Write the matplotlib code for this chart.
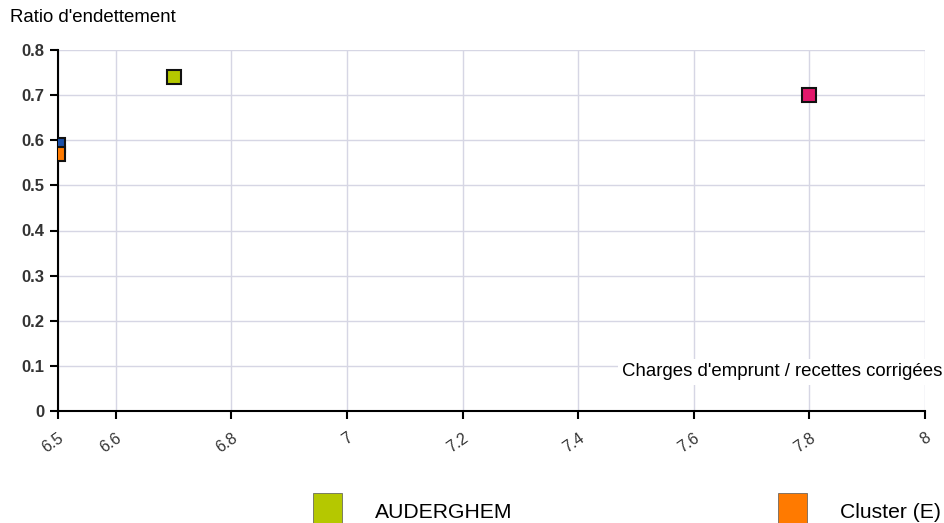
import matplotlib
matplotlib.use("Agg")
import matplotlib.pyplot as plt
from matplotlib.patches import Rectangle

plt.rcParams["font.family"] = ["Liberation Sans", "DejaVu Sans"]

names = ["Blue", "Cluster (E)", "AUDERGHEM", "Red"]
x_vals = [6.5, 6.5, 6.7, 7.8]
y_vals = [0.59, 0.57, 0.74, 0.70]
colors = ["#1a4fa8", "#ff7a00", "#b5c800", "#e2186b"]
x_ticks = [6.5, 6.6, 6.8, 7.0, 7.2, 7.4, 7.6, 7.8, 8.0]
x_labels = ["6.5", "6.6", "6.8", "7", "7.2", "7.4", "7.6", "7.8", "8"]
y_ticks = [0, 0.1, 0.2, 0.3, 0.4, 0.5, 0.6, 0.7, 0.8]
y_labels = ["0", "0.1", "0.2", "0.3", "0.4", "0.5", "0.6", "0.7", "0.8"]
legend_names = ["AUDERGHEM", "Cluster (E)"]
legend_colors = ["#b5c800", "#ff7a00"]

W, H = 945, 523
fig = plt.figure(figsize=(W / 100, H / 100), dpi=100)
ax = fig.add_axes([58 / W, 1 - 411 / H, (925 - 58) / W, (411 - 50) / H])
ax.set_xlim(6.5, 8.0)
ax.set_ylim(0, 0.8)

for xv, yv, c in zip(x_vals, y_vals, colors):
    ax.plot([xv], [yv], marker="s", markersize=10, markerfacecolor=c,
            markeredgecolor="#111111", markeredgewidth=1.5, linestyle="none",
            clip_on=True, zorder=3)

ax.set_xticks(x_ticks)
ax.set_xticklabels(x_labels, rotation=35, ha="right", rotation_mode="anchor",
                   fontsize=11.5, color="#333333")
ax.set_yticks(y_ticks)
ax.set_yticklabels(y_labels, fontsize=12, color="#333333", fontweight="bold")
ax.grid(True, color="#d6d6e4", linewidth=1)
ax.set_axisbelow(True)
for s in ["top", "right"]:
    ax.spines[s].set_visible(False)
for s in ["left", "bottom"]:
    ax.spines[s].set_color("black")
    ax.spines[s].set_linewidth(1.5)
ax.tick_params(axis="both", direction="out", length=6, width=1.5, color="black")
ax.tick_params(axis="x", pad=8)

fig.text(10 / W, 1 - 18 / H, "Ratio d'endettement", fontsize=13.4, va="center", ha="left")
ax.text(942 / W, 1 - 372 / H, "Charges d'emprunt / recettes corrigées",
        transform=fig.transFigure, fontsize=13.4, va="center", ha="right",
        bbox=dict(facecolor="white", edgecolor="none", pad=3), zorder=5)

leg_x = [313, 778]
for lx, name, c in zip(leg_x, legend_names, legend_colors):
    fig.patches.append(Rectangle((lx / W, 1 - 523 / H), 29 / W, 30 / H,
                                 transform=fig.transFigure, facecolor=c,
                                 edgecolor="#555555", linewidth=0.5))
    fig.text((lx + 62) / W, 1 - 513 / H, name, fontsize=15.2, va="center", ha="left")

fig.savefig("out.png", dpi=100)
